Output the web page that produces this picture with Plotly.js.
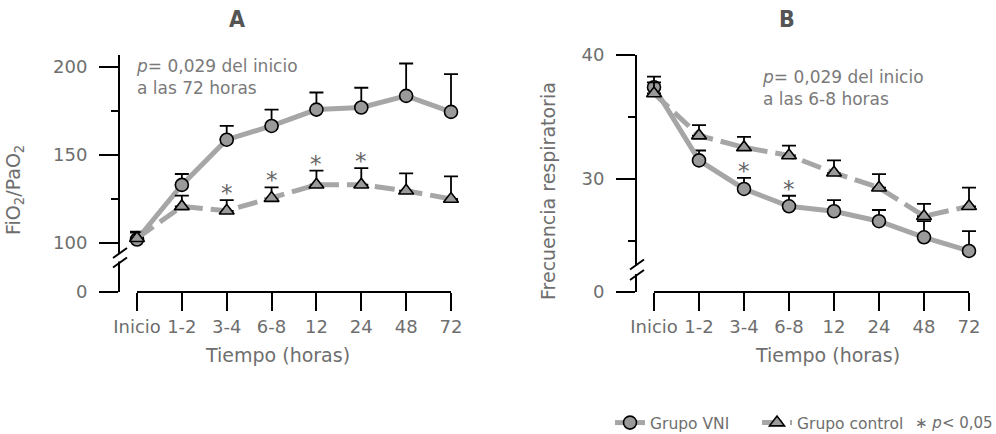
<!DOCTYPE html>
<html>
<head>
<meta charset="utf-8">
<script src="https://cdn.plot.ly/plotly-3.0.1.min.js"></script>
<style>html,body{margin:0;padding:0;background:#fff;}#chart{width:996px;height:434px;}</style>
</head>
<body>
<div id="chart"></div>
<script>
// ---------- data ----------
const categories = ['Inicio', '1-2', '3-4', '6-8', '12', '24', '48', '72'];

// Panel A: FiO2/PaO2
const fioVni     = [102, 133, 158.7, 166.5, 175.8, 177, 183.6, 174.5];
const fioVniErr  = [4.5, 6.2, 7.8, 9.3, 9.7, 11.2, 18.4, 21.5];
const fioCtrl    = [102.7, 120.8, 118.3, 125.5, 133.1, 133.1, 129.7, 125];
const fioCtrlErr = [3.2, 6.1, 6.1, 6.1, 8.0, 9.4, 9.9, 12.9];
const fioSig     = ['3-4', '6-8', '12', '24'];

// Panel B: Frecuencia respiratoria
const frVni     = [37.4, 31.5, 29.2, 27.8, 27.4, 26.6, 25.3, 24.2];
const frVniErr  = [0.85, 0.8, 0.9, 0.85, 0.9, 0.9, 1.3, 1.6];
const frCtrl    = [36.9, 33.5, 32.55, 31.9, 30.5, 29.3, 27.0, 27.8];
const frCtrlErr = [0.9, 0.85, 0.85, 0.8, 1.0, 1.1, 1.0, 1.5];
const frSig     = ['3-4', '6-8'];

// axis ticks
const fioTickVals = [100, 150, 200];
const fioMinor    = [125, 175];
const frTickVals  = [30, 40];
const frMinor     = [25, 35];
const seriesNames = ['Grupo VNI', 'Grupo control'];

// ---------- style ----------
const W = 996, H = 434;
const FONT = 'DejaVu Sans, Roboto, sans-serif';
const TXT = '#6e6e6e';
const LINE = '#a6a6a6';
const FILL = '#9a9a9a';
const px = x => x / W;
const py = y => 1 - y / H;

// broken-axis bottom values (the "0" tick sits at the bottom of each axis)
const fioBottom = 72.16, fioTop = 206.82;
const frBottom = 20.89, frTop = 40;

function zeros(n) { return new Array(n).fill(0); }

function series(y, err, name, sym, dash, xa, ya, showlegend, legend) {
  return {
    x: categories, y: y, name: name, type: 'scatter', mode: 'lines+markers',
    xaxis: xa, yaxis: ya, showlegend: showlegend, legend: legend, cliponaxis: false,
    line: {color: LINE, width: 5, dash: dash},
    marker: {symbol: sym, size: 13, color: FILL, line: {color: '#000', width: 1.6}},
    error_y: {type: 'data', symmetric: false, array: err, arrayminus: zeros(err.length),
              color: '#000', thickness: 1.8, width: 7}
  };
}

const data = [
  series(fioVni, fioVniErr, seriesNames[0], 'circle', 'solid', 'x', 'y', true, 'legend'),
  series(fioCtrl, fioCtrlErr, seriesNames[1], 'triangle-up', '20px,8px', 'x', 'y', true, 'legend2'),
  series(frVni, frVniErr, seriesNames[0], 'circle', 'solid', 'x2', 'y2', false, 'legend'),
  series(frCtrl, frCtrlErr, seriesNames[1], 'triangle-up', '20px,8px', 'x2', 'y2', false, 'legend2')
];

function xaxisDef(d0, d1, left, right, step, anchor) {
  return {
    domain: [px(d0), px(d1)], anchor: anchor, type: 'category', categoryarray: categories,
    range: [-left / step, categories.length - 1 + right / step],
    showline: false, showgrid: false, zeroline: false,
    ticks: 'outside', ticklen: 18, tickwidth: 2, tickcolor: '#000',
    tickfont: {family: FONT, size: 18, color: TXT}, fixedrange: true
  };
}
function yaxisDef(bottom, top, vals, minor, anchor) {
  return {
    domain: [py(292), py(55)], anchor: anchor, range: [bottom, top],
    tickmode: 'array', tickvals: [bottom].concat(vals), ticktext: ['0'].concat(vals.map(String)),
    minor: {tickmode: 'array', tickvals: minor, ticks: 'outside', ticklen: 7, tickwidth: 2, tickcolor: '#000', showgrid: false},
    showline: true, linewidth: 2, linecolor: '#000', showgrid: false, zeroline: false,
    ticks: 'outside', ticklen: 19, tickwidth: 2, tickcolor: '#000', ticklabelstandoff: 8,
    tickfont: {family: FONT, size: 18, color: TXT}, fixedrange: true
  };
}

const annotations = [];
function addText(x, y, text, size, opts) {
  annotations.push(Object.assign({
    xref: 'paper', yref: 'paper', x: px(x), y: py(y), text: text, showarrow: false,
    xanchor: 'center', yanchor: 'middle',
    font: {family: FONT, size: size, color: TXT}
  }, opts || {}));
}
const titleFont = {family: 'DejaVu Sans Condensed, DejaVu Sans, sans-serif', size: 23, color: '#555'};
// panel titles
addText(237, 19, '<b>A</b>', 23, {font: titleFont});
addText(787, 19, '<b>B</b>', 23, {font: titleFont});
// axis titles
addText(14, 190, 'FiO<sub>2</sub>/PaO<sub>2</sub>', 19, {textangle: -90});
addText(548, 191, 'Frecuencia respiratoria', 19, {textangle: -90});
addText(277, 355, 'Tiempo (horas)', 19);
addText(827, 355, 'Tiempo (horas)', 19);
// p-value notes
const noteFont = {family: FONT, size: 17, color: '#7a7a7a'};
addText(134, 77, '<i>p</i>= 0,029 del inicio<br>a las 72 horas', 17, {xanchor: 'left', align: 'left', font: noteFont});
addText(760, 88, '<i>p</i>= 0,029 del inicio<br>a las 6-8 horas', 17, {xanchor: 'left', align: 'left', font: noteFont});
// legend extra
addText(913, 423, '∗ <i>p</i>&lt; 0,05', 15, {xanchor: 'left'});

// significance asterisks above the lower series' error bar
function stars(sig, a, aErr, b, bErr, xa, ya) {
  sig.forEach(c => {
    const i = categories.indexOf(c);
    const top = a[i] < b[i] ? a[i] + aErr[i] : b[i] + bErr[i];
    annotations.push({xref: xa, yref: ya, x: i, y: top, text: '*', showarrow: false,
      xanchor: 'center', yanchor: 'middle', yshift: 7,
      font: {family: FONT, size: 23, color: '#666'}});
  });
}
stars(fioSig, fioVni, fioVniErr, fioCtrl, fioCtrlErr, 'x', 'y');
stars(frSig, frVni, frVniErr, frCtrl, frCtrlErr, 'x2', 'y2');

// x-axis lines (first to last category) and axis breaks
const last = categories.length - 1;
const shapes = [
  {type: 'line', xref: 'x', yref: 'y domain', x0: 0, x1: last, y0: 0, y1: 0, line: {color: '#000', width: 2}},
  {type: 'line', xref: 'x2', yref: 'y2 domain', x0: 0, x1: last, y0: 0, y1: 0, line: {color: '#000', width: 2}}
];
function brk(ax, yA, yB) {
  shapes.push({type: 'rect', xref: 'paper', yref: 'paper', x0: px(ax - 4), x1: px(ax + 4), y0: py(yA + 1), y1: py(yB - 1), fillcolor: '#fff', line: {width: 0}});
  shapes.push({type: 'line', xref: 'paper', yref: 'paper', x0: px(ax - 7), y0: py(yA + 5), x1: px(ax + 7), y1: py(yA - 5), line: {color: '#000', width: 2}});
  shapes.push({type: 'line', xref: 'paper', yref: 'paper', x0: px(ax - 7), y0: py(yB + 5), x1: px(ax + 7), y1: py(yB - 5), line: {color: '#000', width: 2}});
}
brk(120, 253, 262.5);
brk(637, 264.5, 275);

function legendDef(x) {
  return {orientation: 'h', x: px(x), xanchor: 'left', y: py(423), yanchor: 'middle',
          font: {family: FONT, size: 15.5, color: TXT}, itemwidth: 30,
          bgcolor: 'rgba(0,0,0,0)', borderwidth: 0};
}

const layout = {
  width: W, height: H, margin: {l: 0, r: 0, t: 0, b: 0, autoexpand: false},
  paper_bgcolor: '#fff', plot_bgcolor: '#fff',
  font: {family: FONT, color: TXT},
  xaxis: xaxisDef(120, 470, 17, 19, 44.857, 'y'),
  yaxis: yaxisDef(fioBottom, fioTop, fioTickVals, fioMinor, 'x'),
  xaxis2: xaxisDef(637, 985, 17, 16, 45, 'y2'),
  yaxis2: yaxisDef(frBottom, frTop, frTickVals, frMinor, 'x2'),
  showlegend: true,
  legend: legendDef(610),
  legend2: legendDef(757),
  annotations: annotations, shapes: shapes
};

Plotly.newPlot('chart', data, layout, {displayModeBar: false, staticPlot: true});
</script>
</body>
</html>
